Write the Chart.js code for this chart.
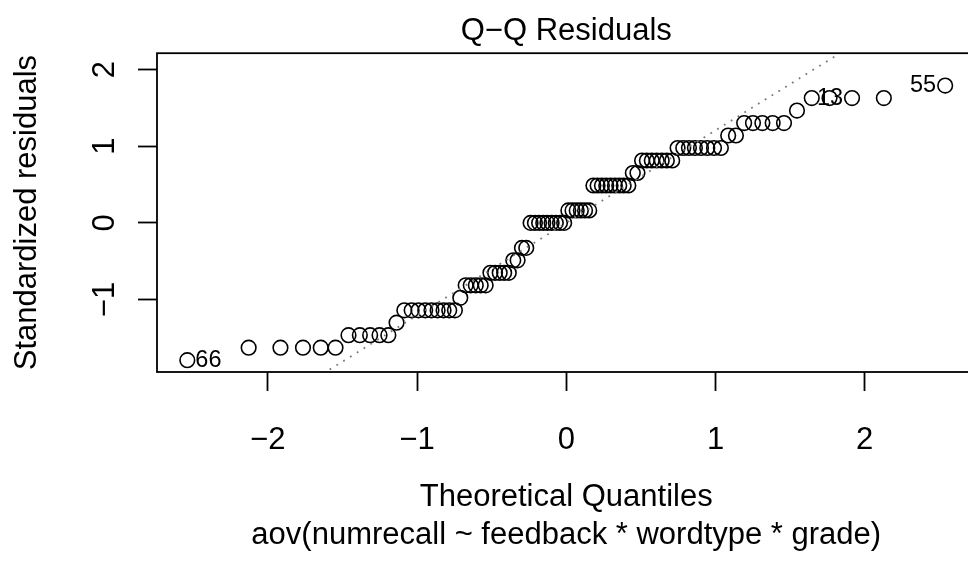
<!DOCTYPE html>
<html>
<head>
<meta charset="utf-8">
<title>Q-Q Residuals</title>
<script src="https://cdn.jsdelivr.net/npm/chart.js@4/dist/chart.umd.min.js"></script>
<style>
  html, body { margin: 0; padding: 0; background: #ffffff; overflow: hidden; }
  #wrap { position: relative; width: 968px; height: 566px; overflow: hidden; background: #ffffff; }
  #wrap canvas { position: absolute; left: 0; top: 0; }
</style>
</head>
<body>
<div id="wrap"><canvas id="qq" width="990" height="566"></canvas></div>
<script>
// Theoretical normal quantiles, one per observation (sorted)
const theoreticalQuantiles = [
  -2.539, -2.128, -1.915, -1.764, -1.645, -1.546, -1.459, -1.383, -1.314, -1.251,
  -1.192, -1.137, -1.085, -1.036, -0.990, -0.945, -0.903, -0.862, -0.822, -0.784,
  -0.746, -0.710, -0.674, -0.640, -0.606, -0.573, -0.540, -0.508, -0.477, -0.446,
  -0.416, -0.385, -0.355, -0.326, -0.297, -0.268, -0.239, -0.210, -0.182, -0.154,
  -0.126, -0.098, -0.070, -0.042, -0.014,
   0.014,  0.042,  0.070,  0.098,  0.126,  0.154,  0.182,  0.210,  0.239,  0.268,
   0.297,  0.326,  0.355,  0.385,  0.416,  0.446,  0.477,  0.508,  0.540,  0.573,
   0.606,  0.640,  0.674,  0.710,  0.746,  0.784,  0.822,  0.862,  0.903,  0.945,
   0.990,  1.036,  1.085,  1.137,  1.192,  1.251,  1.314,  1.383,  1.459,  1.546,
   1.645,  1.764,  1.915,  2.128,  2.539
];

// Sorted standardized residuals of the model
const standardizedResiduals = [
  -1.791,
  -1.628, -1.628, -1.628, -1.628, -1.628,
  -1.465, -1.465, -1.465, -1.465, -1.465,
  -1.302,
  -1.140, -1.140, -1.140, -1.140, -1.140, -1.140, -1.140, -1.140, -1.140,
  -0.977,
  -0.814, -0.814, -0.814, -0.814, -0.814,
  -0.651, -0.651, -0.651, -0.651, -0.651,
  -0.488, -0.488,
  -0.326, -0.326,
   0.000,  0.000,  0.000,  0.000,  0.000,  0.000,  0.000,  0.000,  0.000,
   0.163,  0.163,  0.163,  0.163,  0.163,  0.163,
   0.488,  0.488,  0.488,  0.488,  0.488,  0.488,  0.488,  0.488,  0.488,
   0.651,  0.651,
   0.814,  0.814,  0.814,  0.814,  0.814,  0.814,  0.814,
   0.977,  0.977,  0.977,  0.977,  0.977,  0.977,  0.977,  0.977,
   1.140,  1.140,
   1.302,  1.302,  1.302,  1.302,  1.302,
   1.465,
   1.628,  1.628,  1.628,  1.628,
   1.791
];

// The three most extreme observations, by position in the sorted order
const labelledPositions = [0, 87, 89];
const labelledIds = ['66', '13', '55'];

const xTicks = [-2, -1, 0, 1, 2];
const yTicks = [-1, 0, 1, 2];

const plotTitle = 'Q\u2212Q Residuals';
const xTitle = ['Theoretical Quantiles', 'aov(numrecall ~ feedback * wordtype * grade)'];
const yTitle = 'Standardized residuals';

// Upper quartile of the standard normal distribution
const normalQuartile = 0.67449;

// ---- derived values ----
function quantile7(sorted, p) {
  const h = (sorted.length - 1) * p;
  const lo = Math.floor(h);
  const hi = Math.min(lo + 1, sorted.length - 1);
  return sorted[lo] + (h - lo) * (sorted[hi] - sorted[lo]);
}
const q1 = quantile7(standardizedResiduals, 0.25);
const q3 = quantile7(standardizedResiduals, 0.75);
const slope = (q3 - q1) / (2 * normalQuartile);
const intercept = q1 + slope * normalQuartile;
const refLine = [-4, 4].map(x => ({ x: x, y: intercept + slope * x }));

const xLo = Math.min(...theoreticalQuantiles), xHi = Math.max(...theoreticalQuantiles);
const xPad = 0.04 * (xHi - xLo);
let yLo = Math.min(...standardizedResiduals), yHi = Math.max(...standardizedResiduals);
yHi += 0.075 * (yHi - yLo);              // head-room for the point labels
const yPad = 0.04 * (yHi - yLo);

const FONT = "'Liberation Sans', Arial, Helvetica, sans-serif";
const TXT = 31;
const minusFmt = v => (v < 0 ? '\u2212' + Math.abs(v) : String(v));

const boxPlugin = {
  id: 'plotBox',
  afterDraw(chart) {
    const a = chart.chartArea, ctx = chart.ctx;
    ctx.save();
    ctx.strokeStyle = '#000';
    ctx.lineWidth = 1.8;
    ctx.strokeRect(a.left, a.top, a.right - a.left, a.bottom - a.top);
    ctx.restore();
  }
};

const idPlugin = {
  id: 'pointIds',
  afterDatasetsDraw(chart) {
    const meta = chart.getDatasetMeta(1);
    const ctx = chart.ctx;
    const xs = chart.scales.x;
    const mid = (xs.min + xs.max) / 2;
    ctx.save();
    ctx.font = '23.5px ' + FONT;
    ctx.fillStyle = '#000';
    ctx.textBaseline = 'middle';
    labelledPositions.forEach((pos, k) => {
      const el = meta.data[pos];
      const right = theoreticalQuantiles[pos] > mid;
      ctx.textAlign = right ? 'right' : 'left';
      ctx.fillText(labelledIds[k], el.x + (right ? -9 : 8), el.y);
    });
    ctx.restore();
  }
};

new Chart(document.getElementById('qq'), {
  data: {
    datasets: [
      {
        type: 'line',
        data: refLine,
        borderColor: '#7a7a7a',
        borderWidth: 1.8,
        borderDash: [1.8, 6.2],
        pointRadius: 0,
        fill: false
      },
      {
        type: 'scatter',
        data: theoreticalQuantiles.map((x, i) => ({ x: x, y: standardizedResiduals[i] })),
        pointStyle: 'circle',
        pointRadius: 7.3,
        pointBorderWidth: 1.6,
        pointBorderColor: '#000',
        pointBackgroundColor: 'rgba(0,0,0,0)'
      }
    ]
  },
  options: {
    responsive: false,
    devicePixelRatio: 1,
    animation: false,
    events: [],
    layout: { padding: { left: 0, right: 14.5, top: 0, bottom: 0 } },
    plugins: {
      legend: { display: false },
      tooltip: { enabled: false },
      title: {
        display: true,
        text: plotTitle,
        fullSize: false,
        color: '#000',
        font: { family: FONT, size: TXT, weight: 'normal', lineHeight: 1.2 },
        padding: { top: 13, bottom: 3 }
      }
    },
    scales: {
      x: {
        type: 'linear',
        position: 'bottom',
        min: xLo - xPad,
        max: xHi + xPad,
        afterBuildTicks: s => { s.ticks = xTicks.map(v => ({ value: v })); },
        afterFit: s => { s.height = 194; },
        border: { display: false },
        grid: { display: true, drawOnChartArea: false, drawTicks: true, tickLength: 19, tickWidth: 1.8, tickColor: '#000' },
        ticks: { color: '#000', font: { family: FONT, size: TXT }, padding: 31, maxRotation: 0, autoSkip: false, callback: minusFmt },
        title: {
          display: true,
          text: xTitle,
          color: '#000',
          font: { family: FONT, size: TXT, lineHeight: 1.226 },
          padding: { top: 0, bottom: 12 }
        }
      },
      y: {
        type: 'linear',
        position: 'left',
        min: yLo - yPad,
        max: yHi + yPad,
        afterBuildTicks: s => { s.ticks = yTicks.map(v => ({ value: v })); },
        afterFit: s => { s.width = 157; },
        border: { display: false },
        grid: { display: true, drawOnChartArea: false, drawTicks: true, tickLength: 19, tickWidth: 1.8, tickColor: '#000' },
        ticks: { color: '#000', font: { family: FONT, size: TXT }, padding: 15, minRotation: 90, maxRotation: 90, crossAlign: 'center', autoSkip: false, callback: minusFmt },
        title: {
          display: true,
          text: yTitle,
          color: '#000',
          font: { family: FONT, size: TXT, lineHeight: 1.2 },
          padding: { top: 9, bottom: 0 }
        }
      }
    }
  },
  plugins: [boxPlugin, idPlugin]
});
</script>
</body>
</html>
